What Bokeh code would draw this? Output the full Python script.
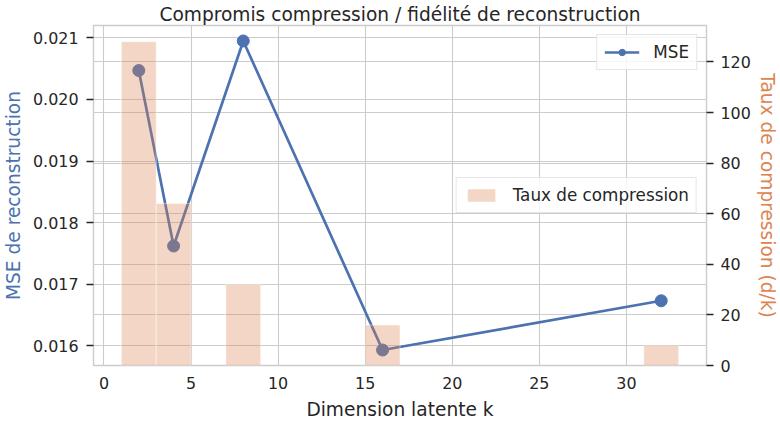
from bokeh.plotting import figure
from bokeh.models import (Range1d, LinearAxis, FixedTicker, PrintfTickFormatter, Grid,
                          Legend, LegendItem, ColumnDataSource)
from bokeh.embed import file_html
from bokeh.resources import INLINE

# ---- data ----
k_dims = [2, 4, 8, 16, 32]
mse = [0.02047, 0.01762, 0.02095, 0.01593, 0.01673]
ratio = [128, 64, 32, 16, 8]
x_ticks = [0, 5, 10, 15, 20, 25, 30]
mse_ticks = [0.016, 0.017, 0.018, 0.019, 0.020, 0.021]
ratio_ticks = [0, 20, 40, 60, 80, 100, 120]

title_text = "Compromis compression / fidélité de reconstruction"
xlabel = "Dimension latente k"
ylabel_left = "MSE de reconstruction"
ylabel_right = "Taux de compression (d/k)"
leg_mse, leg_ratio = "MSE", "Taux de compression"

# ---- style ----
BLUE = "#4C72B0"
ORANGE = "#DD8452"
TXT = "#262626"
GRID = "#cccccc"
FONT = "DejaVu Sans"
bar_w = 2
LBL_FS = "18.6px"
TICK_FS = "15.9px"
LEG_FS = "16.8px"

lo, hi = min(k_dims) - bar_w / 2, max(k_dims) + bar_w / 2
mx = (hi - lo) * 0.05
mlo, mhi = min(mse), max(mse)
my = (mhi - mlo) * 0.05
rtop = max(ratio) * 1.05

W, H = 783, 424
BL, BR, BT, BB = 89, 77, 25, 59

p = figure(width=W, height=H, output_backend="svg", toolbar_location=None,
           x_range=Range1d(lo - mx, hi + mx), y_range=Range1d(mlo - my, mhi + my),
           min_border_left=BL, min_border_right=BR, min_border_top=BT, min_border_bottom=BB,
           title=title_text, background_fill_color="white", border_fill_color="white")
p.extra_y_ranges = {"ratio": Range1d(0, rtop)}

p.title.text_font = FONT
p.title.text_font_size = LBL_FS
p.title.text_font_style = "normal"
p.title.text_color = TXT
p.title.align = "center"
p.title.standoff = 1

p.outline_line_color = GRID
p.outline_line_width = 1.4


def style_axis(ax, tick_out):
    ax.major_tick_out = tick_out
    ax.major_tick_in = 0
    ax.major_tick_line_color = TXT if tick_out else None
    ax.major_tick_line_width = 1.4
    ax.minor_tick_line_color = None
    ax.axis_line_color = None
    ax.major_label_text_font = FONT
    ax.major_label_text_font_size = TICK_FS
    ax.major_label_text_color = TXT
    ax.axis_label_text_font = FONT
    ax.axis_label_text_font_size = LBL_FS
    ax.axis_label_text_font_style = "normal"


# x axis
xa = p.xaxis[0]
xa.ticker = FixedTicker(ticks=x_ticks)
style_axis(xa, 0)
xa.major_label_standoff = 11
xa.axis_label = xlabel
xa.axis_label_text_color = TXT
xa.axis_label_standoff = 7

# left axis
ya = p.yaxis[0]
ya.ticker = FixedTicker(ticks=mse_ticks)
ya.formatter = PrintfTickFormatter(format="%.3f")
style_axis(ya, 7)
ya.major_label_standoff = 8
ya.axis_label = ylabel_left
ya.axis_label_text_color = BLUE
ya.axis_label_standoff = 6

# right axis
ra = LinearAxis(y_range_name="ratio", ticker=FixedTicker(ticks=ratio_ticks))
style_axis(ra, 7)
ra.major_label_standoff = 7
ra.axis_label = ylabel_right
ra.axis_label_text_color = ORANGE
ra.axis_label_standoff = 3
p.add_layout(ra, "right")

# grids
p.xgrid.ticker = FixedTicker(ticks=x_ticks)
p.ygrid.ticker = FixedTicker(ticks=mse_ticks)
for g in (p.xgrid[0], p.ygrid[0]):
    g.grid_line_color = GRID
    g.grid_line_width = 1.1
rg = Grid(dimension=1, ticker=FixedTicker(ticks=ratio_ticks), y_range_name="ratio",
          grid_line_color=GRID, grid_line_width=1.1)
p.add_layout(rg)

# glyphs (bars drawn last, on top of the line, like the twin axis)
src = ColumnDataSource(dict(k=k_dims, mse=mse, ratio=ratio))
ln = p.line("k", "mse", source=src, line_color=BLUE, line_width=2.7)
sc = p.scatter("k", "mse", source=src, size=12, fill_color=BLUE, line_color=BLUE)
br = p.vbar(x="k", top="ratio", width=bar_w, source=src, y_range_name="ratio",
            fill_color=ORANGE, fill_alpha=0.33, line_color="white", line_alpha=0.45, line_width=1)


def style_legend(lg):
    lg.label_text_font = FONT
    lg.label_text_font_size = LEG_FS
    lg.label_text_color = TXT
    lg.border_line_color = GRID
    lg.border_line_width = 1
    lg.background_fill_color = "white"
    lg.background_fill_alpha = 0.8
    lg.padding = 7
    lg.spacing = 0
    lg.margin = 9
    lg.glyph_width = 35
    lg.glyph_height = 16
    lg.label_height = 17
    lg.label_standoff = 14


leg1 = Legend(items=[LegendItem(label=leg_mse, renderers=[ln, sc])], location="top_right")
leg2 = Legend(items=[LegendItem(label=leg_ratio, renderers=[br])], location="center_right")
style_legend(leg1)
style_legend(leg2)
p.add_layout(leg1)
p.add_layout(leg2)

open("out.html", "w").write(file_html(p, INLINE))
